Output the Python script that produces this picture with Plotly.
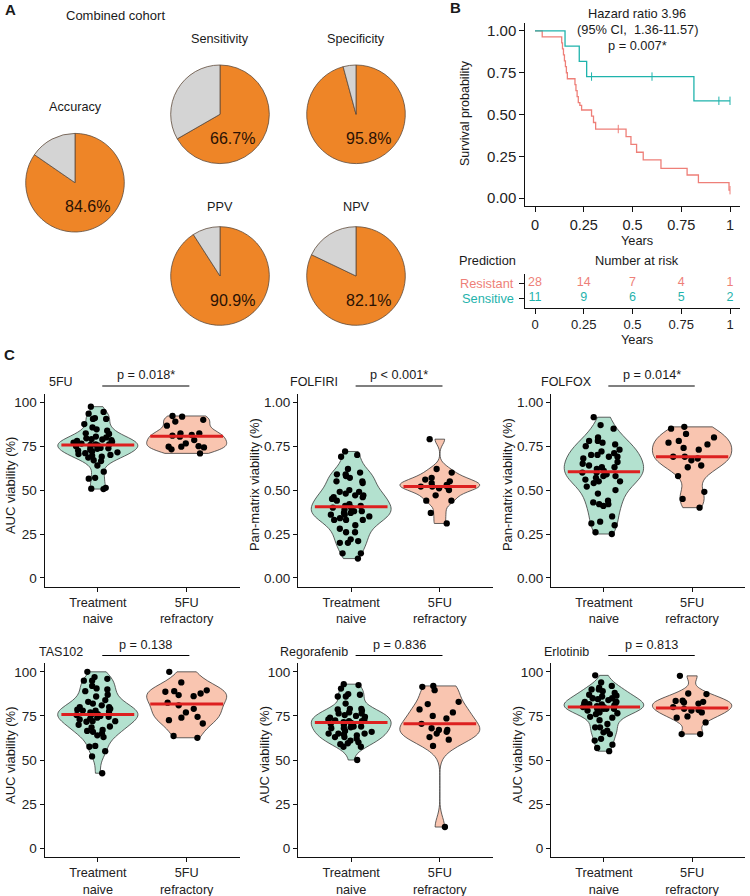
import numpy as np
import plotly.graph_objects as go

W, H = 750, 896
def px(x): return x / W
def py(y): return 1 - y / H

FONT = "Liberation Sans, Arial, sans-serif"
TXT = "#1a1a1a"

# ---------------- Panel A data ----------------
pie_names = ["Accuracy", "Sensitivity", "Specificity", "PPV", "NPV"]
pie_values = [84.6, 66.7, 95.8, 90.9, 82.1]

# ---------------- Panel B data ----------------
res_t = [0, 0.037, 0.137, 0.141, 0.146, 0.151, 0.156, 0.161, 0.166, 0.205, 0.210, 0.216,
         0.222, 0.230, 0.239, 0.290, 0.300, 0.311, 0.467, 0.492, 0.521, 0.555, 0.646,
         0.780, 0.838, 0.995, 1.0]
res_s = [1, 0.964, 0.929, 0.893, 0.857, 0.821, 0.786, 0.750, 0.714, 0.679, 0.643, 0.607,
         0.571, 0.555, 0.527, 0.490, 0.452, 0.413, 0.367, 0.321, 0.274, 0.228, 0.177,
         0.138, 0.092, 0.047, 0.047]
sen_t = [0, 0.154, 0.227, 0.265, 0.815, 1.0]
sen_s = [1, 0.909, 0.818, 0.727, 0.582, 0.582]
cens_res_t = [0.427, 1.0]
cens_res_s = [0.413, 0.047]
cens_sen_t = [0.29, 0.60, 0.943, 1.0]
cens_sen_s = [0.727, 0.727, 0.582, 0.582]
risk_times = [0, 0.25, 0.5, 0.75, 1]
risk_res = [28, 14, 7, 4, 1]
risk_sen = [11, 9, 6, 5, 2]
km_ticks = [0, 0.25, 0.5, 0.75, 1]
km_ticktext = ["0", "0.25", "0.5", "0.75", "1"]

# ---------------- Panel C data ----------------
groups = ["Treatment<br>naive", "5FU<br>refractory"]
fu5_naive = [97.5, 94.5, 93.5, 90.5, 91, 90.5, 87.6, 85.7, 83.8, 84.6, 82.3, 82, 80.5, 79.5, 79,
             78.5, 78, 77.5, 77, 76.5, 76, 76, 75.5, 75, 74.5, 74, 73.5, 73, 72.5, 72, 71.5, 71,
             70.5, 70, 69.5, 69, 68.5, 67, 66.5, 64, 60.5, 57, 56.5, 51.3, 50.6, 50.8, 78.8,
             75.8, 73.8, 80]
fu5_ref = [91.8, 92.2, 89, 90, 86.7, 80.4, 81.4, 82.3, 82.3, 78.5, 74.7, 74.3, 75, 76.6, 74.7,
           70.9, 73.2, 81]
folfiri_naive = [0.72, 0.70, 0.69, 0.62, 0.60, 0.59, 0.59, 0.58, 0.57, 0.55, 0.55, 0.54, 0.50,
                 0.49, 0.48, 0.49, 0.47, 0.46, 0.45, 0.47, 0.46, 0.41, 0.41, 0.40, 0.40, 0.39,
                 0.38, 0.37, 0.37, 0.38, 0.36, 0.35, 0.33, 0.33, 0.34, 0.33, 0.30, 0.28, 0.26,
                 0.26, 0.22, 0.21, 0.20, 0.20, 0.14, 0.14, 0.11, 0.42, 0.44, 0.36]
folfiri_ref = [0.79, 0.62, 0.60, 0.57, 0.55, 0.56, 0.54, 0.53, 0.52, 0.52, 0.51, 0.50, 0.47,
               0.44, 0.44, 0.37, 0.31, 0.52]
folfox_naive = [0.915, 0.87, 0.85, 0.80, 0.78, 0.78, 0.77, 0.76, 0.75, 0.73, 0.72, 0.71, 0.70,
                0.70, 0.69, 0.69, 0.68, 0.65, 0.64, 0.63, 0.62, 0.63, 0.61, 0.60, 0.59, 0.58,
                0.57, 0.56, 0.55, 0.55, 0.54, 0.52, 0.50, 0.48, 0.44, 0.43, 0.42, 0.42, 0.41,
                0.35, 0.32, 0.30, 0.31, 0.26, 0.25, 0.60, 0.66, 0.58]
folfox_ref = [0.86, 0.85, 0.80, 0.78, 0.82, 0.77, 0.76, 0.73, 0.74, 0.69, 0.69, 0.68, 0.67,
              0.63, 0.64, 0.58, 0.49, 0.45, 0.40]
tas_naive = [100, 97, 96, 95, 95, 92, 90, 89, 90.6, 87, 86, 83, 82, 78, 80, 80, 78, 79, 77,
             75.5, 75, 73, 74, 72, 75.5, 72, 71.7, 69, 67, 65, 64, 63, 68.5, 66, 58, 57.5, 55,
             52, 42.5, 76, 77.5, 70, 74.5, 81, 84, 66.5, 73.5, 78.5]
tas_ref = [100, 94, 89.5, 89, 88.7, 87.7, 86.8, 86.2, 82.5, 81, 79, 77, 74.5, 74, 72.6, 70.7,
           63.6, 62.6]
rego_naive = [93, 92.5, 90.5, 87, 86, 87.4, 86, 82, 79, 78.7, 79, 78, 76.4, 76.4, 75, 75.5,
              74.5, 73, 73, 72, 72.5, 72, 71.5, 69, 69, 68.5, 70, 68, 68, 65, 65, 66, 65, 64.5,
              66.5, 63, 63, 64, 62, 61, 60, 59.5, 59, 57.5, 57.5, 50, 71, 70.5, 74, 77]
rego_ref = [92, 91.5, 89.6, 83, 81.7, 78.7, 77, 75, 73.6, 70.5, 68, 67, 67, 66, 65, 63, 61.5,
            58, 12]
erl_naive = [98, 94, 92, 90, 89, 91, 90, 88, 87, 86, 85, 85, 84.5, 83, 83, 82, 81.5, 81.7, 80,
             79, 79, 79, 78, 77, 76, 74.5, 79.5, 80.5, 81, 74, 72.6, 70.4, 68.5, 68.5, 66.6,
             65.7, 64.7, 62, 61, 58.7, 56.8, 55, 84, 82.5, 86.5, 76.5, 80, 78.5]
erl_ref = [97.7, 87.7, 87.4, 83.5, 83, 82.6, 83.6, 82, 80, 78, 78.3, 77, 74, 71.3, 74.7, 64.7,
           64.7, 79]

drugs = ["5FU", "FOLFIRI", "FOLFOX", "TAS102", "Regorafenib", "Erlotinib"]
naive_sets = [fu5_naive, folfiri_naive, folfox_naive, tas_naive, rego_naive, erl_naive]
ref_sets = [fu5_ref, folfiri_ref, folfox_ref, tas_ref, rego_ref, erl_ref]
pvals = ["p = 0.018*", "p < 0.001*", "p = 0.014*", "p = 0.138", "p = 0.836", "p = 0.813"]
ylabels = ["AUC viability (%)", "Pan-matrix viability (%)", "Pan-matrix viability (%)",
           "AUC viability (%)", "AUC viability (%)", "AUC viability (%)"]
fractional = [False, True, True, False, False, False]

# ---------------- styling / layout constants ----------------
ORANGE = "#EE8527"
GREY = "#D4D4D4"
RES_COL = "#EE7F78"
SEN_COL = "#1FB3AC"
NAIVE_FILL = "#B3E1CF"
REF_FILL = "#F9C5B0"
RED = "#DD2020"

pie_centers = [(75, 182.7), (220, 114.3), (356, 114.3), (220, 276), (356, 276)]
pie_title_y = [106.7, 39.3, 39.3, 207.3, 207.3]
R = 49.3

fig = go.Figure()
ann = []
shapes = []

def text(x, y, s, size=12.7, color=TXT, xanchor="center", bold=False, angle=0,
         xref="paper", yref="paper"):
    ann.append(dict(x=x, y=y, xref=xref, yref=yref, text=f"<b>{s}</b>" if bold else s,
                    showarrow=False, xanchor=xanchor, yanchor="middle", textangle=angle,
                    font=dict(family=FONT, size=size, color=color)))

# ---------------- Panel A ----------------
text(px(10), py(9), "A", size=15, bold=True)
text(px(115.5), py(15.7), "Combined cohort", size=13)
for name, val, (cx, cy), ty in zip(pie_names, pie_values, pie_centers, pie_title_y):
    fig.add_trace(go.Pie(values=[val, 100 - val], labels=[name + " yes", name + " no"],
                         sort=False, direction="clockwise", rotation=0,
                         marker=dict(colors=[ORANGE, GREY], line=dict(color="#5e4a3a", width=0.8)),
                         textinfo="none", hoverinfo="skip", showlegend=False,
                         domain=dict(x=[px(cx - R), px(cx + R)], y=[py(cy + R), py(cy - R)])))
    text(px(cx), py(ty), name, size=12.7)
    text(px(cx + 12.5), py(cy + 24), f"{val}%", size=16, color="#2a1204")

# ---------------- Panel B ----------------
fig.add_trace(go.Scatter(x=res_t, y=res_s, mode="lines", line=dict(color=RES_COL, width=1.3, shape="hv"),
                         xaxis="x", yaxis="y", showlegend=False, hoverinfo="skip"))
fig.add_trace(go.Scatter(x=sen_t, y=sen_s, mode="lines", line=dict(color=SEN_COL, width=1.3, shape="hv"),
                         xaxis="x", yaxis="y", showlegend=False, hoverinfo="skip"))
fig.add_trace(go.Scatter(x=cens_res_t, y=cens_res_s, mode="markers",
                         marker=dict(symbol="line-ns", size=6, line=dict(color=RES_COL, width=1)),
                         xaxis="x", yaxis="y", showlegend=False, hoverinfo="skip"))
fig.add_trace(go.Scatter(x=cens_sen_t, y=cens_sen_s, mode="markers",
                         marker=dict(symbol="line-ns", size=6, line=dict(color=SEN_COL, width=1)),
                         xaxis="x", yaxis="y", showlegend=False, hoverinfo="skip"))
fig.add_trace(go.Scatter(x=risk_times, y=[2] * len(risk_times), text=[str(v) for v in risk_res],
                         mode="text", textfont=dict(family=FONT, size=12.5, color=RES_COL),
                         xaxis="x2", yaxis="y2", showlegend=False, hoverinfo="skip"))
fig.add_trace(go.Scatter(x=risk_times, y=[1] * len(risk_times), text=[str(v) for v in risk_sen],
                         mode="text", textfont=dict(family=FONT, size=12.5, color=SEN_COL),
                         xaxis="x2", yaxis="y2", showlegend=False, hoverinfo="skip"))

text(px(455), py(8), "B", size=15, bold=True)
text(px(637), py(13.3), "Hazard ratio 3.96", size=12.8)
text(px(637), py(29.3), "(95% CI,  1.36-11.57)", size=12.8)
text(px(637), py(45), "p = 0.007*", size=12.8)
text(px(465), py(113), "Survival probability", size=12.5, angle=-90)
text(px(637), py(240.5), "Years", size=12.8)
text(px(487), py(260.7), "Prediction", size=12.8)
text(px(637), py(260.7), "Number at risk", size=12.8)
text(px(516), py(283), "Resistant", size=12.8, color=RES_COL, xanchor="right")
text(px(516), py(298.5), "Sensitive", size=12.8, color=SEN_COL, xanchor="right")
text(px(637), py(339.5), "Years", size=12.8)

axis_common = dict(showline=True, linecolor="#111", linewidth=1, ticks="outside",
                   tickcolor="#111", showgrid=False, zeroline=False, fixedrange=True)
layout_axes = {}
layout_axes["xaxis"] = dict(axis_common, domain=[px(525.25), px(739.75)], range=[-0.05, 1.05],
                            tickvals=km_ticks, ticktext=km_ticktext, anchor="y", ticklen=5,
                            tickfont=dict(family=FONT, size=14.5, color="#222"))
layout_axes["yaxis"] = dict(axis_common, domain=[py(206.4), py(22.6)], range=[-0.05, 1.05],
                            tickvals=[0, 0.25, 0.5, 0.75, 1], tickformat=".2f", anchor="x", ticklen=5,
                            tickfont=dict(family=FONT, size=15, color="#222"))
layout_axes["xaxis2"] = dict(axis_common, domain=[px(525.25), px(739.75)], range=[-0.05, 1.05],
                             tickvals=km_ticks, ticktext=km_ticktext, anchor="y2", ticklen=5,
                             tickfont=dict(family=FONT, size=13, color="#222"))
layout_axes["yaxis2"] = dict(axis_common, domain=[py(307.5), py(274)], range=[0.4, 2.6],
                             tickvals=[1, 2], showticklabels=False, anchor="x2", ticklen=5)

# ---------------- Panel C ----------------
text(px(9), py(354), "C", size=15, bold=True)
col_x = [(44.5, 240), (298, 493), (551, 745)]
row_y = [(393.5, 586.7), (663, 857)]
XR = [0.4, 2.6]

def nrd0(v):
    v = np.asarray(v, dtype=float)
    sd = v.std(ddof=1)
    q75, q25 = np.percentile(v, [75, 25])
    lo = min(sd, (q75 - q25) / 1.34)
    return 0.9 * lo * len(v) ** -0.2

for i, drug in enumerate(drugs):
    r, c = divmod(i, 3)
    n = i + 3
    xa, ya = f"x{n}", f"y{n}"
    x0, x1 = col_x[c]
    top, bot = row_y[r]
    frac = fractional[i]
    yr = [-0.05, 1.05] if frac else [-5, 105]
    yt = [0, 0.25, 0.5, 0.75, 1] if frac else [0, 25, 50, 75, 100]
    for k, (vals, fill) in enumerate([(naive_sets[i], NAIVE_FILL), (ref_sets[i], REF_FILL)]):
        fig.add_trace(go.Violin(x=[k + 1] * len(vals), y=vals, xaxis=xa, yaxis=ya,
                                fillcolor=fill, line=dict(color="#3a3a3a", width=0.8),
                                width=0.9, scalemode="width", spanmode="hard",
                                bandwidth=nrd0(vals), points="all", pointpos=0, jitter=0.65,
                                marker=dict(color="black", size=6.3), box_visible=False,
                                meanline_visible=False, showlegend=False, hoverinfo="skip",
                                opacity=1))
    for k, vals in enumerate([naive_sets[i], ref_sets[i]]):
        med = float(np.median(vals))
        fig.add_trace(go.Scatter(x=[k + 1 - 0.41, k + 1 + 0.41], y=[med, med], mode="lines",
                                 line=dict(color=RED, width=3), xaxis=xa, yaxis=ya,
                                 showlegend=False, hoverinfo="skip"))
    layout_axes[f"xaxis{n}"] = dict(axis_common, domain=[px(x0), px(x1)], range=XR,
                                    tickvals=[1, 2], ticktext=groups, anchor=ya, ticklen=4,
                                    tickfont=dict(family=FONT, size=12.7, color="#222"))
    layout_axes[f"yaxis{n}"] = dict(axis_common, domain=[py(bot), py(top)], range=yr,
                                    tickvals=yt, tickformat=".2f" if frac else "d", anchor=xa,
                                    ticklen=4, tickfont=dict(family=FONT, size=13.5, color="#222"))
    # titles and p-value bracket
    ann.append(dict(x=0.58, y=py(top - 11.5), xref=xa, yref="paper", text=drug, showarrow=False,
                    xanchor="center", yanchor="middle",
                    font=dict(family=FONT, size=12.5, color=TXT)))
    ann.append(dict(x=1.54, y=py(top - 18.5), xref=xa, yref="paper", text=pvals[i],
                    showarrow=False, xanchor="center", yanchor="middle",
                    font=dict(family=FONT, size=12.7, color=TXT)))
    shapes.append(dict(type="line", xref=f"{xa} domain", yref="paper",
                       x0=(1.05 - XR[0]) / (XR[1] - XR[0]), x1=(2.03 - XR[0]) / (XR[1] - XR[0]),
                       y0=py(top - 7.5), y1=py(top - 7.5), line=dict(color="black", width=1.2)))
    off = 44 if frac else 34.5
    text(px(x0 - off), py((top + bot) / 2 - 5), ylabels[i], size=13, angle=-90)

fig.update_layout(width=W, height=H, margin=dict(l=0, r=0, t=0, b=0),
                  paper_bgcolor="white", plot_bgcolor="white", violinmode="overlay",
                  annotations=ann, shapes=shapes, font=dict(family=FONT), **layout_axes)

fig.write_html("out.html")
